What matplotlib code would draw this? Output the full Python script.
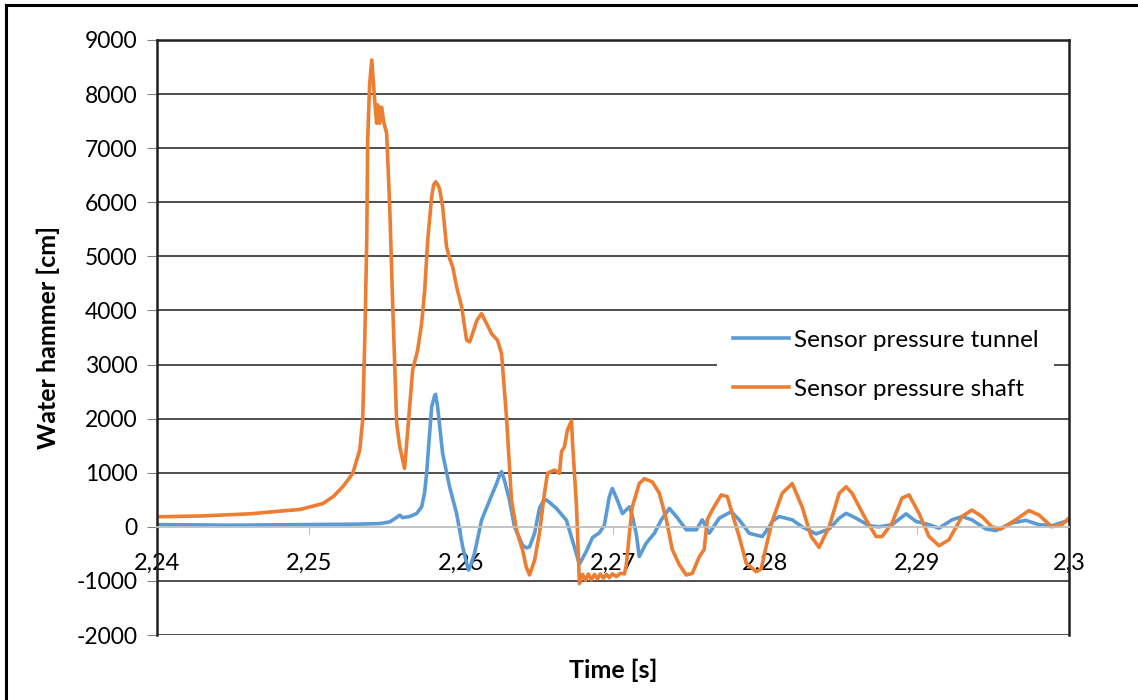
import numpy as np
import matplotlib.pyplot as plt
from matplotlib.lines import Line2D
from matplotlib.ticker import FuncFormatter

plt.rcParams['font.family'] = ['Lato', 'DejaVu Sans']
plt.rcParams['axes.unicode_minus'] = False

# Sensor pressure tunnel
t_tunnel = [2.24000, 2.24283, 2.24480, 2.24940, 2.25334, 2.25465, 2.25531, 2.25564,
            2.25597, 2.25616, 2.25662, 2.25708, 2.25741, 2.25760, 2.25774, 2.25790, 2.25807, 2.25827,
            2.25833, 2.25846, 2.25879, 2.25925, 2.25971, 2.26011, 2.26035, 2.26050, 2.26065, 2.26089,
            2.26135, 2.26175, 2.26234, 2.26255, 2.26267, 2.26286, 2.26319, 2.26352, 2.26405,
            2.26430, 2.26451, 2.26484, 2.26516, 2.26540, 2.26562, 2.26628, 2.26694, 2.26733, 2.26779,
            2.26825, 2.26865, 2.26911, 2.26943, 2.26976, 2.26996, 2.27029, 2.27062,
            2.27108, 2.27127, 2.27154, 2.27173, 2.27219, 2.27272, 2.27318, 2.27371,
            2.27417, 2.27482, 2.27548, 2.27587, 2.27633, 2.27699, 2.27778, 2.27830,
            2.27896, 2.27982, 2.28028, 2.28047, 2.28093, 2.28179, 2.28244, 2.28336,
            2.28422, 2.28488, 2.28534, 2.28599, 2.28685, 2.28750, 2.28836, 2.28928,
            2.28993, 2.29079, 2.29145, 2.29230, 2.29296, 2.29361, 2.29453, 2.29519,
            2.29624, 2.29716, 2.29802, 2.29887, 2.30000]
p_tunnel = [40, 35, 30, 40, 50, 60, 90, 150,
            215, 170, 190, 245, 370, 620, 990, 1600, 2220, 2430,
            2450, 2220, 1360, 740, 245, -370, -650, -800, -700, -490,
            120, 400, 800, 960, 1020, 860, 490, 0, -340,
            -390, -370, -120, 340, 470, 500, 340, 120, -250, -690,
            -450, -200, -110, 30, 560, 710, 490, 245,
            370, 200, -150, -550, -300, -120, 130, 340,
            190, -55, -55, 130, -120, 160, 280, 130,
            -120, -180, 0, 100, 190, 130, 0, -130,
            -40, 160, 250, 160, 20, 0, 40, 240,
            100, 40, -25, 130, 190, 130, -40, -70,
            70, 120, 40, 20, 120]

# Sensor pressure shaft
t_shaft = [2.24000, 2.24283, 2.24611, 2.24808, 2.24940, 2.25091, 2.25160, 2.25222, 2.25260, 2.25288,
           2.25334, 2.25353, 2.25367, 2.25380, 2.25386, 2.25399, 2.25413, 2.25432,
           2.25445, 2.25452, 2.25465, 2.25478, 2.25491, 2.25511, 2.25531, 2.25551,
           2.25577, 2.25597, 2.25629, 2.25662, 2.25682, 2.25715, 2.25741, 2.25761,
           2.25781, 2.25807, 2.25820, 2.25833, 2.25846, 2.25859, 2.25879, 2.25905, 2.25925, 2.25945,
           2.25971, 2.26004, 2.26037, 2.26057, 2.26076, 2.26105, 2.26135, 2.26168, 2.26201,
           2.26240, 2.26267, 2.26300, 2.26332, 2.26365, 2.26405, 2.26430, 2.26451, 2.26484,
           2.26516, 2.26549, 2.26569, 2.26615, 2.26648, 2.26661, 2.26681, 2.26700,
           2.26727, 2.26733, 2.26760, 2.26779, 2.26799, 2.26819, 2.26838, 2.26858,
           2.26878, 2.26898, 2.26917, 2.26937, 2.26957, 2.26976, 2.26996, 2.27022,
           2.27049, 2.27075, 2.27088, 2.27108, 2.27127, 2.27154, 2.27173, 2.27206,
           2.27259, 2.27305, 2.27351, 2.27390, 2.27436, 2.27482, 2.27522, 2.27568,
           2.27600, 2.27620, 2.27653, 2.27712, 2.27752, 2.27784, 2.27830, 2.27876,
           2.27942, 2.27975, 2.28008, 2.28047, 2.28113, 2.28179, 2.28244, 2.28304,
           2.28356, 2.28422, 2.28488, 2.28534, 2.28573, 2.28665, 2.28731, 2.28770,
           2.28836, 2.28901, 2.28947, 2.29013, 2.29079, 2.29145, 2.29210, 2.29296,
           2.29361, 2.29427, 2.29493, 2.29552, 2.29650, 2.29736, 2.29802, 2.29887,
           2.29953, 2.30000]
p_shaft = [185, 200, 240, 290, 320, 430, 560, 740, 880, 990,
           1420, 1970, 3450, 5300, 7150, 8190, 8630, 7890,
           7460, 7800, 7460, 7760, 7490, 7270, 5920, 4070,
           1910, 1480, 1080, 2220, 2900, 3270, 3760, 4370,
           5300, 6100, 6320, 6380, 6330, 6250, 5920, 5180, 4960, 4810,
           4440, 4070, 3450, 3420, 3570, 3820, 3940, 3760, 3570,
           3450, 3200, 2000, 500, -60, -430, -750, -890, -620,
           -120, 620, 990, 1050, 990, 1390, 1480, 1790,
           1960, 1600, 370, -1050, -880, -990, -870, -980,
           -880, -960, -870, -950, -880, -940, -870, -920,
           -860, -870, -700, -120, 370, 620, 800, 890,
           830, 620, 130, -420, -700, -890, -860, -550,
           -420, 130, 310, 590, 560, 250, -180, -670,
           -830, -780, -360, 100, 620, 800, 370, -180,
           -380, 0, 620, 740, 620, 130, -180, -180,
           70, 530, 590, 250, -180, -350, -240, 190,
           310, 190, 0, -40, 130, 300, 220, 0,
           40, 160]

x_ticks = [2.24, 2.25, 2.26, 2.27, 2.28, 2.29, 2.30]
y_ticks = [-2000, -1000, 0, 1000, 2000, 3000, 4000, 5000, 6000, 7000, 8000, 9000]

fig = plt.figure(figsize=(11.38, 7.0), dpi=100)
ax = fig.add_axes([157 / 1138, 1 - 635 / 700, 912 / 1138, 595 / 700])

ax.plot(t_tunnel, p_tunnel, color='#5B9BD5', lw=2.6, label='Sensor pressure tunnel',
        solid_joinstyle='round')
ax.plot(t_shaft, p_shaft, color='#ED7D31', lw=2.6, label='Sensor pressure shaft',
        solid_joinstyle='round')

ax.set_xlim(2.24, 2.30)
ax.set_ylim(-2000, 9000)
ax.set_xticks(x_ticks)
ax.set_yticks(y_ticks)
ax.xaxis.set_major_formatter(FuncFormatter(lambda v, p: '{:g}'.format(round(v, 4)).replace('.', ',')))

for y in y_ticks:
    if y != 0:
        ax.axhline(y, color='#303030', lw=1.2, zorder=0)

ax.spines['bottom'].set_position(('data', 0))
ax.spines['bottom'].set_color('#BFBFBF')
ax.spines['bottom'].set_linewidth(1.3)
for s in ['top', 'right', 'left']:
    ax.spines[s].set_color('#202020')
    ax.spines[s].set_linewidth(1.8)

ax.tick_params(axis='x', direction='out', length=5, color='#BFBFBF', pad=14, labelsize=17)
ax.tick_params(axis='y', direction='out', length=7, color='#808080', pad=7, labelsize=16.5)

ax.set_ylabel('Water hammer [cm]', fontsize=18, fontweight='bold', labelpad=12)
ax.set_xlabel('Time [s]', fontsize=18, fontweight='bold')
ax.xaxis.set_label_coords(0.5, -0.04)

leg = ax.legend(loc='center left', bbox_to_anchor=(0.614, 0.454), borderaxespad=0,
                frameon=True, fancybox=False, edgecolor='none', facecolor='white',
                framealpha=1, fontsize=17.5, handlelength=2.3, handletextpad=0.2,
                borderpad=0.66, labelspacing=1.15)

# outer chart frame (left and top edges)
fig.add_artist(Line2D([6 / 1138, 6 / 1138], [0, 1 - 5 / 700], color='black', lw=2.2))
fig.add_artist(Line2D([6 / 1138, 1], [1 - 5 / 700, 1 - 5 / 700], color='black', lw=2.2))

fig.savefig('out.png', dpi=100)
